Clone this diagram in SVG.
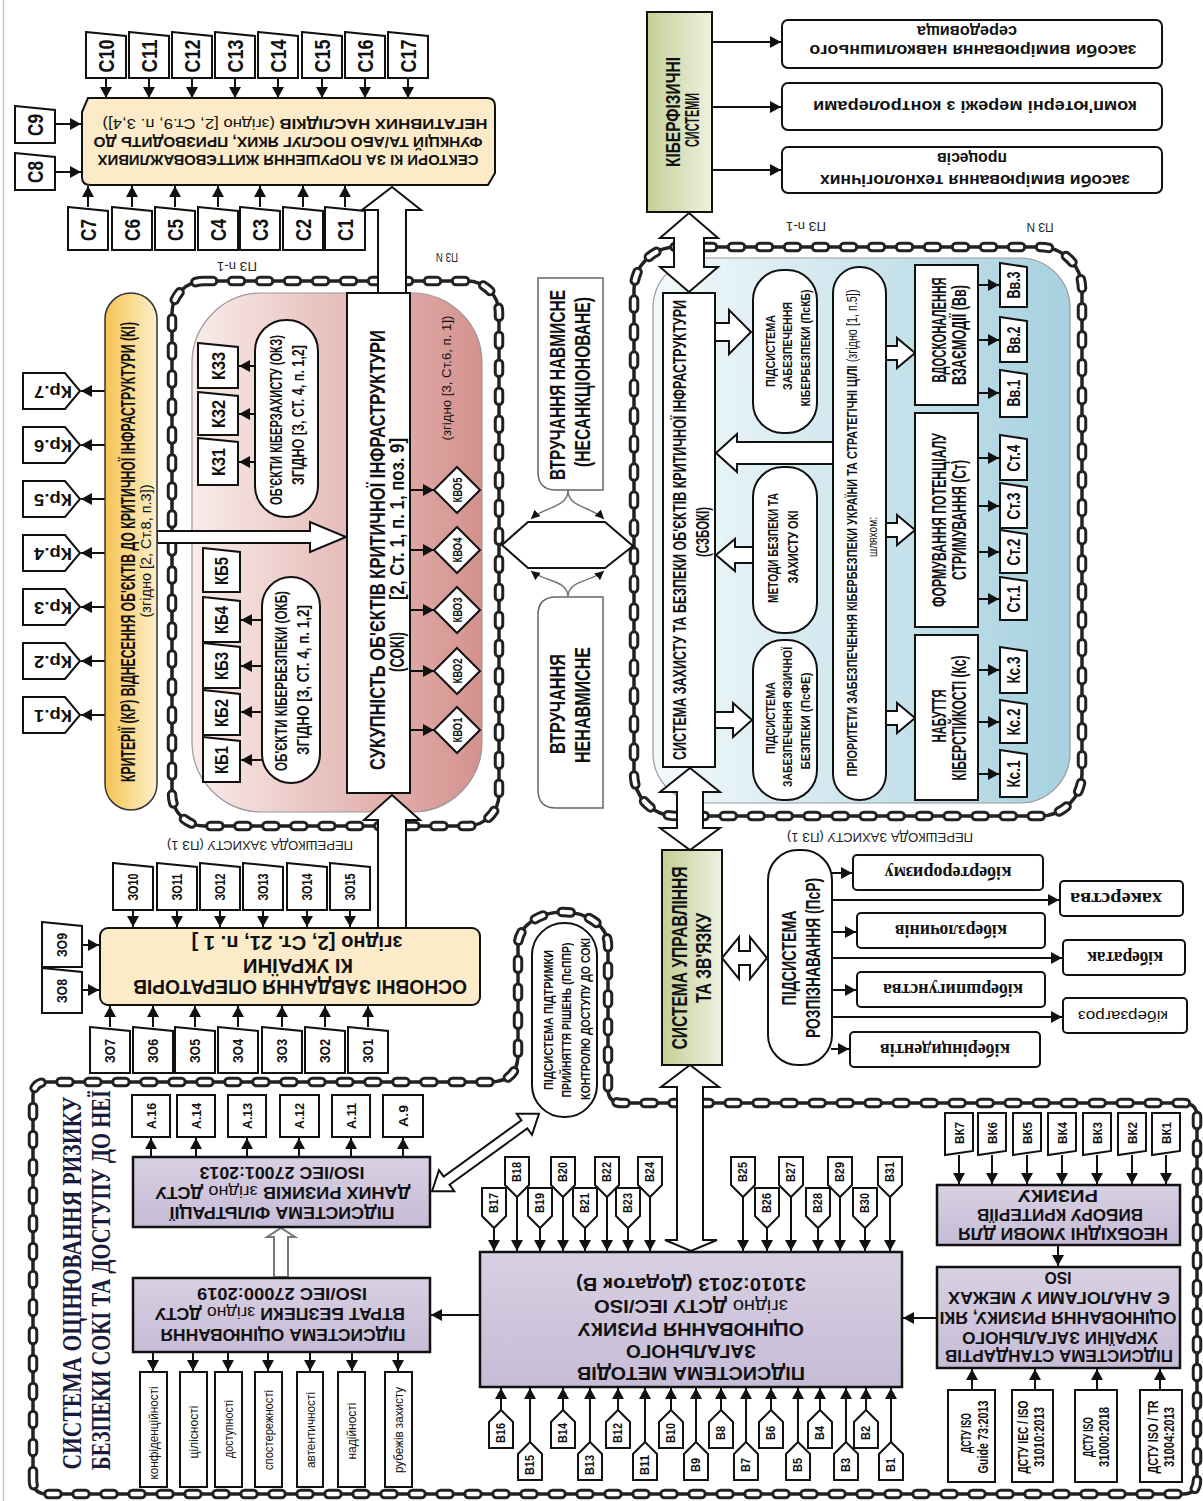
<svg xmlns="http://www.w3.org/2000/svg" width="1203" height="1501" viewBox="0 0 1203 1501">
<defs>
<style>
text{font-family:"Liberation Sans",Arial,sans-serif;font-weight:700;fill:#111;text-anchor:middle;dominant-baseline:central}
.n{font-weight:400}
.sf{font-family:"Liberation Serif","Times New Roman",serif}
.bx{fill:#fff;stroke:#111;stroke-width:2}
.cr{fill:#fcebc8;stroke:#111;stroke-width:2}
.pu{fill:url(#gp);stroke:#111;stroke-width:2.5}
.gn{fill:url(#gg);stroke:#111;stroke-width:2}
.ar{fill:none;stroke:#111;stroke-width:2;marker-end:url(#ah)}
.ha{fill:#fff;stroke:#111;stroke-width:2}
.hg{fill:#fff;stroke:#777;stroke-width:2}
.br{fill:none;stroke:#777;stroke-width:1.5;marker-end:url(#ah2)}
.c1{fill:none;stroke:#222;stroke-width:3.5}
.c2{fill:none;stroke:#222;stroke-width:10.5;stroke-dasharray:9 19;stroke-linecap:round}
.c3{fill:none;stroke:#fff;stroke-width:4.5;stroke-dasharray:9 19;stroke-linecap:round}
.pz{font-weight:400;fill:#222}
.tt{fill:#1a1a3a}
</style>
<marker id="ah" viewBox="0 0 11 12" refX="11" refY="6" markerWidth="11" markerHeight="12" markerUnits="userSpaceOnUse" orient="auto"><path d="M0,0L11,6L0,12Z" fill="#111"/></marker>
<marker id="ah2" viewBox="0 0 9 9" refX="9" refY="4.5" markerWidth="9" markerHeight="9" markerUnits="userSpaceOnUse" orient="auto"><path d="M0,0L9,4.5L0,9Z" fill="#111"/></marker>
<linearGradient id="gp" x1="0" y1="0" x2="0" y2="1"><stop offset="0" stop-color="#d8d0e3"/><stop offset="1" stop-color="#c6bcd6"/></linearGradient>
<linearGradient id="gg" x1="0" y1="0" x2="1" y2="0"><stop offset="0" stop-color="#c3cf95"/><stop offset="1" stop-color="#eef1e0"/></linearGradient>
<linearGradient id="gy" x1="0" y1="0" x2="1" y2="0"><stop offset="0" stop-color="#f5c452"/><stop offset="1" stop-color="#fdefcc"/></linearGradient>
<linearGradient id="gr" x1="0" y1="0" x2="1" y2="0"><stop offset="0" stop-color="#f9ecea"/><stop offset="1" stop-color="#d4918d"/></linearGradient>
<linearGradient id="gb" x1="0" y1="0" x2="1" y2="0"><stop offset="0" stop-color="#f3f9fb"/><stop offset="1" stop-color="#a6d1df"/></linearGradient>
<path id="chS" d="M204,281H467A32,32 0 0 1 499,313V794A32,32 0 0 1 467,826H204A32,32 0 0 1 172,794V313A32,32 0 0 1 204,281Z"/>
<path id="chB" d="M676,247H1040A42,42 0 0 1 1082,289V774A42,42 0 0 1 1040,816H676A42,42 0 0 1 634,774V289A42,42 0 0 1 676,247Z"/>
<path id="chR" d="M33,1480V1096Q33,1082 47,1082H490Q518,1082 518,1054V945A45,33 0 0 1 608,945V1089Q608,1103 622,1103H1183Q1197,1103 1197,1117V1480Q1197,1494 1183,1494H47Q33,1494 33,1480Z"/>
</defs>
<rect width="1203" height="1501" fill="#fff"/>
<line x1="3.5" y1="0" x2="3.5" y2="1501" stroke="#c8c8c8" stroke-width="1.5"/>

<g id="region-soki">
<rect x="192" y="293" width="290" height="519" rx="70" fill="url(#gr)" stroke="#999" stroke-width="1.2"/>
</g>
<g id="region-szboki">
<rect x="653" y="258" width="417" height="545" rx="50" fill="url(#gb)" stroke="#999" stroke-width="1.2"/>
</g>
<g id="chains">
<use href="#chS" class="c1"/><use href="#chS" class="c2"/><use href="#chS" class="c3"/>
<use href="#chB" class="c1"/><use href="#chB" class="c2"/><use href="#chB" class="c3"/>
<use href="#chR" class="c1"/><use href="#chR" class="c2"/><use href="#chR" class="c3"/>
</g>

<g id="connectors">
<line class="ar" x1="106" y1="79" x2="106" y2="98"/><line class="ar" x1="149" y1="79" x2="149" y2="98"/><line class="ar" x1="192" y1="79" x2="192" y2="98"/><line class="ar" x1="235" y1="79" x2="235" y2="98"/><line class="ar" x1="278" y1="79" x2="278" y2="98"/><line class="ar" x1="322" y1="79" x2="322" y2="98"/><line class="ar" x1="365" y1="79" x2="365" y2="98"/><line class="ar" x1="408" y1="79" x2="408" y2="98"/>
<line class="ar" x1="88" y1="207" x2="88" y2="186"/><line class="ar" x1="132" y1="207" x2="132" y2="186"/><line class="ar" x1="175" y1="207" x2="175" y2="186"/><line class="ar" x1="218" y1="207" x2="218" y2="186"/><line class="ar" x1="260" y1="207" x2="260" y2="186"/><line class="ar" x1="303" y1="207" x2="303" y2="186"/><line class="ar" x1="345" y1="207" x2="345" y2="186"/>
<line class="ar" x1="56" y1="124" x2="81" y2="124"/><line class="ar" x1="56" y1="172" x2="81" y2="172"/>
<line class="ar" x1="105" y1="715" x2="81" y2="715"/><line class="ar" x1="105" y1="661" x2="81" y2="661"/><line class="ar" x1="105" y1="607" x2="81" y2="607"/><line class="ar" x1="105" y1="553" x2="81" y2="553"/><line class="ar" x1="105" y1="499" x2="81" y2="499"/><line class="ar" x1="105" y1="445" x2="81" y2="445"/><line class="ar" x1="105" y1="391" x2="81" y2="391"/>
<line class="ar" x1="258" y1="366" x2="239" y2="366"/><line class="ar" x1="257" y1="414" x2="239" y2="414"/><line class="ar" x1="258" y1="462" x2="239" y2="462"/>
<line class="ar" x1="263" y1="620" x2="241" y2="620"/><line class="ar" x1="262" y1="666" x2="241" y2="666"/><line class="ar" x1="262" y1="712" x2="241" y2="712"/><line class="ar" x1="264" y1="760" x2="241" y2="760"/>
<line class="ar" x1="410" y1="490" x2="434" y2="490"/><line class="ar" x1="410" y1="550" x2="434" y2="550"/><line class="ar" x1="410" y1="610" x2="434" y2="610"/><line class="ar" x1="410" y1="671" x2="434" y2="671"/><line class="ar" x1="410" y1="730" x2="434" y2="730"/>
<line class="ar" x1="712" y1="42" x2="781" y2="42"/><line class="ar" x1="712" y1="107" x2="781" y2="107"/><line class="ar" x1="712" y1="170" x2="781" y2="170"/>
<line class="ar" x1="978" y1="285" x2="999" y2="285"/><line class="ar" x1="978" y1="340" x2="999" y2="340"/><line class="ar" x1="978" y1="393" x2="999" y2="393"/><line class="ar" x1="978" y1="458" x2="999" y2="458"/><line class="ar" x1="978" y1="506" x2="999" y2="506"/><line class="ar" x1="978" y1="552" x2="999" y2="552"/><line class="ar" x1="978" y1="599" x2="999" y2="599"/><line class="ar" x1="978" y1="670" x2="999" y2="670"/><line class="ar" x1="978" y1="722" x2="999" y2="722"/><line class="ar" x1="978" y1="774" x2="999" y2="774"/>
<line class="ar" x1="831" y1="873" x2="852" y2="873"/><line class="ar" x1="832" y1="932" x2="856" y2="932"/><line class="ar" x1="832" y1="990" x2="856" y2="990"/><line class="ar" x1="831" y1="1049" x2="849" y2="1049"/>
<line class="ar" x1="832" y1="900" x2="1059" y2="900"/><line class="ar" x1="832" y1="958" x2="1062" y2="958"/><line class="ar" x1="832" y1="1017" x2="1062" y2="1017"/>
<line class="ar" x1="133" y1="911" x2="133" y2="927"/><line class="ar" x1="177" y1="911" x2="177" y2="927"/><line class="ar" x1="220" y1="911" x2="220" y2="927"/><line class="ar" x1="263" y1="911" x2="263" y2="927"/><line class="ar" x1="307" y1="911" x2="307" y2="927"/><line class="ar" x1="350" y1="911" x2="350" y2="927"/>
<line class="ar" x1="110" y1="1027" x2="110" y2="1006"/><line class="ar" x1="153" y1="1027" x2="153" y2="1006"/><line class="ar" x1="195" y1="1027" x2="195" y2="1006"/><line class="ar" x1="238" y1="1027" x2="238" y2="1006"/><line class="ar" x1="282" y1="1027" x2="282" y2="1006"/><line class="ar" x1="325" y1="1027" x2="325" y2="1006"/><line class="ar" x1="368" y1="1027" x2="368" y2="1006"/>
<line class="ar" x1="83" y1="945" x2="99" y2="945"/><line class="ar" x1="83" y1="990" x2="99" y2="990"/>
<line class="ar" x1="151" y1="1157" x2="151" y2="1138"/><line class="ar" x1="196" y1="1157" x2="196" y2="1138"/><line class="ar" x1="247" y1="1157" x2="247" y2="1138"/><line class="ar" x1="299" y1="1157" x2="299" y2="1138"/><line class="ar" x1="351" y1="1157" x2="351" y2="1138"/><line class="ar" x1="403" y1="1157" x2="403" y2="1138"/>
<line class="ar" x1="153" y1="1353" x2="153" y2="1371"/><line class="ar" x1="193" y1="1353" x2="193" y2="1371"/><line class="ar" x1="228" y1="1353" x2="228" y2="1371"/><line class="ar" x1="268" y1="1353" x2="268" y2="1371"/><line class="ar" x1="310" y1="1353" x2="310" y2="1371"/><line class="ar" x1="352" y1="1353" x2="352" y2="1371"/><line class="ar" x1="398" y1="1353" x2="398" y2="1371"/>
<line class="ar" x1="480" y1="1315" x2="431" y2="1315"/>
<line class="ar" x1="494" y1="1228" x2="494" y2="1251"/><line class="ar" x1="517" y1="1197" x2="517" y2="1251"/><line class="ar" x1="540" y1="1228" x2="540" y2="1251"/><line class="ar" x1="563" y1="1197" x2="563" y2="1251"/><line class="ar" x1="585" y1="1228" x2="585" y2="1251"/><line class="ar" x1="607" y1="1197" x2="607" y2="1251"/><line class="ar" x1="628" y1="1228" x2="628" y2="1251"/><line class="ar" x1="650" y1="1197" x2="650" y2="1251"/>
<line class="ar" x1="743" y1="1197" x2="743" y2="1251"/><line class="ar" x1="767" y1="1228" x2="767" y2="1251"/><line class="ar" x1="791" y1="1197" x2="791" y2="1251"/><line class="ar" x1="818" y1="1228" x2="818" y2="1251"/><line class="ar" x1="840" y1="1197" x2="840" y2="1251"/><line class="ar" x1="865" y1="1228" x2="865" y2="1251"/><line class="ar" x1="890" y1="1197" x2="890" y2="1251"/>
<line class="ar" x1="501" y1="1410" x2="501" y2="1388"/><line class="ar" x1="530" y1="1442" x2="530" y2="1388"/><line class="ar" x1="563" y1="1410" x2="563" y2="1388"/><line class="ar" x1="590" y1="1442" x2="590" y2="1388"/><line class="ar" x1="618" y1="1410" x2="618" y2="1388"/><line class="ar" x1="645" y1="1442" x2="645" y2="1388"/><line class="ar" x1="671" y1="1410" x2="671" y2="1388"/><line class="ar" x1="696" y1="1442" x2="696" y2="1388"/>
<line class="ar" x1="721" y1="1410" x2="721" y2="1388"/><line class="ar" x1="746" y1="1442" x2="746" y2="1388"/><line class="ar" x1="771" y1="1410" x2="771" y2="1388"/><line class="ar" x1="798" y1="1442" x2="798" y2="1388"/><line class="ar" x1="820" y1="1410" x2="820" y2="1388"/><line class="ar" x1="846" y1="1442" x2="846" y2="1388"/><line class="ar" x1="866" y1="1410" x2="866" y2="1388"/><line class="ar" x1="891" y1="1442" x2="891" y2="1388"/>
<line class="ar" x1="937" y1="1318" x2="903" y2="1318"/>
<line class="ar" x1="1058" y1="1245" x2="1058" y2="1266"/>
<line class="ar" x1="959" y1="1155" x2="959" y2="1184"/><line class="ar" x1="992" y1="1155" x2="992" y2="1184"/><line class="ar" x1="1027" y1="1155" x2="1027" y2="1184"/><line class="ar" x1="1062" y1="1155" x2="1062" y2="1184"/><line class="ar" x1="1097" y1="1155" x2="1097" y2="1184"/><line class="ar" x1="1132" y1="1155" x2="1132" y2="1184"/><line class="ar" x1="1166" y1="1155" x2="1166" y2="1184"/>
<line class="ar" x1="972" y1="1390" x2="972" y2="1369"/><line class="ar" x1="1035" y1="1390" x2="1035" y2="1369"/><line class="ar" x1="1097" y1="1390" x2="1097" y2="1369"/><line class="ar" x1="1160" y1="1390" x2="1160" y2="1369"/>
<polygon class="ha" points="378,293 378,210 362,210 392,187 421,210 406,210 406,293"/>
<polygon class="ha" points="378,928 378,820 364,820 392,795 420,820 406,820 406,928"/>
<polygon class="ha" points="157,531 310,531 310,522 346,537 310,552 310,543 157,543"/>
<polygon class="ha" points="689,213 718,238 704,238 704,267 718,267 689,292 660,267 674,267 674,238 660,238"/>
<polygon class="ha" points="690,768 720,792 703,792 703,828 720,828 690,850 660,828 677,828 677,792 660,792"/>
<polygon class="ha" points="690,1065 719,1087 703,1087 703,1240 717,1240 691,1251 665,1240 677,1240 677,1087 661,1087"/>
<polygon class="ha" points="722,958 739,937 739,951 750,951 750,937 767,958 750,979 750,965 739,965 739,979"/>
<polygon class="ha" points="715,323 729,323 729,310 751,332 729,354 729,341 715,341"/>
<polygon class="ha" points="833,442 737,442 737,434 716,453 737,472 737,464 833,464"/>
<polygon class="ha" points="753,547 735,547 735,539 716,555 735,571 735,563 753,563"/>
<polygon class="ha" points="715,712 733,712 733,703 752,720 733,737 733,728 715,728"/>
<polygon class="ha" points="886,346 897,346 897,338 915,353 897,368 897,360 886,360"/>
<polygon class="ha" points="886,523 897,523 897,515 915,530 897,545 897,537 886,537"/>
<polygon class="ha" points="886,711 897,711 897,703 915,718 897,733 897,725 886,725"/>
<polygon class="hg" points="274,1277 274,1237 267,1237 281,1228 295,1237 288,1237 288,1277"/>
<polygon class="ha" transform="translate(485.5,1152.5) rotate(-35.9)" points="-66,0 -48,-13 -48,-5 48,-5 48,-13 66,0 48,13 48,5 -48,5 -48,13"/>
<polygon points="502,545 528,522 605,522 633,546 605,568 528,568" fill="#fff" stroke="#111" stroke-width="2"/>
<path class="br" d="M568,490C568,508 545,506 531,519"/>
<path class="br" d="M568,490C568,508 591,506 604,519"/>
<path class="br" d="M568,597C568,580 545,582 531,571"/>
<path class="br" d="M568,597C568,580 591,582 604,571"/>
</g>

<g id="labels-pz" font-size="12">
<text class="pz" transform="translate(237,266) rotate(180)" textLength="40" lengthAdjust="spacingAndGlyphs">ПЗ n-1</text>
<text class="pz" transform="translate(447,257) rotate(180)" textLength="22" lengthAdjust="spacingAndGlyphs">ПЗ N</text>
<text class="pz" transform="translate(806,226) rotate(180)" textLength="40" lengthAdjust="spacingAndGlyphs">ПЗ n-1</text>
<text class="pz" transform="translate(1040,227) rotate(180)" textLength="27" lengthAdjust="spacingAndGlyphs">ПЗ N</text>
<text class="pz" transform="translate(260,845) rotate(180)" textLength="186" lengthAdjust="spacingAndGlyphs">ПЕРЕШКОДА ЗАХИСТУ (ПЗ 1)</text>
<text class="pz" transform="translate(880,837) rotate(180)" textLength="186" lengthAdjust="spacingAndGlyphs">ПЕРЕШКОДА ЗАХИСТУ (ПЗ 1)</text>
<text class="n" transform="translate(446,378) rotate(-90)" font-size="13" textLength="125" lengthAdjust="spacingAndGlyphs">(згідно [3, Ст.6, п. 1])</text>
</g>

<g id="n-sectors">
<path class="cr" d="M88,98H487Q495,98 495,106V173L488,185H90Q82,185 82,177V112Z"/>
<text transform="translate(288,160) rotate(180)" font-size="14" textLength="381" lengthAdjust="spacingAndGlyphs">СЕКТОРИ КІ ЗА ПОРУШЕННЯ ЖИТТЄВОВАЖЛИВИХ</text>
<text transform="translate(288,142) rotate(180)" font-size="14" textLength="389" lengthAdjust="spacingAndGlyphs">ФУНКЦІЙ ТА/АБО ПОСЛУГ ЯКИХ, ПРИЗВОДИТЬ ДО</text>
<text transform="translate(295,124) rotate(180)" font-size="14" textLength="385" lengthAdjust="spacingAndGlyphs">НЕГАТИВНИХ НАСЛІДКІВ <tspan class="n">(згідно [2, Ст.9, п. 3,4])</tspan></text>
</g>
<g id="n-c" font-size="22">
<polygon class="bx" points="86,32 126,36 126,78 86,78"/><text transform="translate(106,56) rotate(-90)" textLength="33" lengthAdjust="spacingAndGlyphs">С10</text>
<polygon class="bx" points="129,32 169,36 169,78 129,78"/><text transform="translate(149,56) rotate(-90)" textLength="33" lengthAdjust="spacingAndGlyphs">С11</text>
<polygon class="bx" points="172,32 212,36 212,78 172,78"/><text transform="translate(192,56) rotate(-90)" textLength="33" lengthAdjust="spacingAndGlyphs">С12</text>
<polygon class="bx" points="215,32 255,36 255,78 215,78"/><text transform="translate(235,56) rotate(-90)" textLength="33" lengthAdjust="spacingAndGlyphs">С13</text>
<polygon class="bx" points="258,32 298,36 298,78 258,78"/><text transform="translate(278,56) rotate(-90)" textLength="33" lengthAdjust="spacingAndGlyphs">С14</text>
<polygon class="bx" points="302,32 342,36 342,78 302,78"/><text transform="translate(322,56) rotate(-90)" textLength="33" lengthAdjust="spacingAndGlyphs">С15</text>
<polygon class="bx" points="345,32 385,36 385,78 345,78"/><text transform="translate(365,56) rotate(-90)" textLength="33" lengthAdjust="spacingAndGlyphs">С16</text>
<polygon class="bx" points="388,32 428,36 428,78 388,78"/><text transform="translate(408,56) rotate(-90)" textLength="33" lengthAdjust="spacingAndGlyphs">С17</text>
<polygon class="bx" points="68,207 108,211 108,250 68,250"/><text transform="translate(88,230) rotate(-90)" textLength="22" lengthAdjust="spacingAndGlyphs">С7</text>
<polygon class="bx" points="112,207 152,211 152,250 112,250"/><text transform="translate(132,230) rotate(-90)" textLength="22" lengthAdjust="spacingAndGlyphs">С6</text>
<polygon class="bx" points="155,207 195,211 195,250 155,250"/><text transform="translate(175,230) rotate(-90)" textLength="22" lengthAdjust="spacingAndGlyphs">С5</text>
<polygon class="bx" points="198,207 238,211 238,250 198,250"/><text transform="translate(218,230) rotate(-90)" textLength="22" lengthAdjust="spacingAndGlyphs">С4</text>
<polygon class="bx" points="240,207 280,211 280,250 240,250"/><text transform="translate(260,230) rotate(-90)" textLength="22" lengthAdjust="spacingAndGlyphs">С3</text>
<polygon class="bx" points="283,207 323,211 323,250 283,250"/><text transform="translate(303,230) rotate(-90)" textLength="22" lengthAdjust="spacingAndGlyphs">С2</text>
<polygon class="bx" points="325,207 365,211 365,250 325,250"/><text transform="translate(345,230) rotate(-90)" textLength="22" lengthAdjust="spacingAndGlyphs">С1</text>
<polygon class="bx" points="15,106 55,110 55,143 15,143"/><text transform="translate(35,125) rotate(-90)" textLength="22" lengthAdjust="spacingAndGlyphs">С9</text>
<polygon class="bx" points="15,153 55,157 55,190 15,190"/><text transform="translate(35,172) rotate(-90)" textLength="22" lengthAdjust="spacingAndGlyphs">С8</text>
</g>

<g id="n-criteria">
<rect x="105" y="293" width="52" height="517" rx="26" fill="url(#gy)" stroke="#333" stroke-width="1.5"/>
<text transform="translate(128,552) rotate(-90)" font-size="20" textLength="460" lengthAdjust="spacingAndGlyphs">КРИТЕРІЇ (КР) ВІДНЕСЕННЯ ОБ'ЄКТІВ ДО КРИТИЧНОЇ ІНФРАСТРУКТУРИ (КІ)</text>
<text class="n" transform="translate(146,551) rotate(-90)" font-size="14" textLength="133" lengthAdjust="spacingAndGlyphs">(згідно [2, Ст.8, п.3])</text>
</g>
<g id="n-kr" font-size="17">
<polygon class="bx" points="23,697 65,697 80,715 65,733 23,733"/><text transform="translate(53,715) rotate(180)" textLength="38" lengthAdjust="spacingAndGlyphs">Кр.1</text>
<polygon class="bx" points="23,643 65,643 80,661 65,679 23,679"/><text transform="translate(53,661) rotate(180)" textLength="38" lengthAdjust="spacingAndGlyphs">Кр.2</text>
<polygon class="bx" points="23,589 65,589 80,607 65,625 23,625"/><text transform="translate(53,607) rotate(180)" textLength="38" lengthAdjust="spacingAndGlyphs">Кр.3</text>
<polygon class="bx" points="23,535 65,535 80,553 65,571 23,571"/><text transform="translate(53,553) rotate(180)" textLength="38" lengthAdjust="spacingAndGlyphs">Кр.4</text>
<polygon class="bx" points="23,481 65,481 80,499 65,517 23,517"/><text transform="translate(53,499) rotate(180)" textLength="38" lengthAdjust="spacingAndGlyphs">Кр.5</text>
<polygon class="bx" points="23,427 65,427 80,445 65,463 23,463"/><text transform="translate(53,445) rotate(180)" textLength="38" lengthAdjust="spacingAndGlyphs">Кр.6</text>
<polygon class="bx" points="23,373 65,373 80,391 65,409 23,409"/><text transform="translate(53,391) rotate(180)" textLength="38" lengthAdjust="spacingAndGlyphs">Кр.7</text>
</g>

<g id="n-soki">
<rect class="bx" x="347" y="293" width="63" height="500"/>
<text transform="translate(377,550) rotate(-90)" font-size="22" textLength="440" lengthAdjust="spacingAndGlyphs">СУКУПНІСТЬ ОБ'ЄКТІВ КРИТИЧНОЇ ІНФРАСТРУКТУРИ</text>
<text transform="translate(397,652) rotate(-90)" font-size="20" textLength="40" lengthAdjust="spacingAndGlyphs">(СОКІ)</text>
<text transform="translate(397,519) rotate(-90)" font-size="20" textLength="162" lengthAdjust="spacingAndGlyphs">[2, Ст. 1, п. 1, поз. 9]</text>
</g>
<g id="n-okz">
<rect class="bx" x="255" y="320" width="63" height="197" rx="31"/>
<text transform="translate(276,420) rotate(-90)" font-size="17" textLength="170" lengthAdjust="spacingAndGlyphs">ОБ'ЄКТИ КІБЕРЗАХИСТУ (ОКЗ)</text>
<text transform="translate(298,415) rotate(-90)" font-size="17" textLength="140" lengthAdjust="spacingAndGlyphs">ЗГІДНО [3, СТ. 4, п. 1,2]</text>
</g>
<g id="n-okb">
<rect class="bx" x="262" y="577" width="58" height="206" rx="29"/>
<text transform="translate(281,681) rotate(-90)" font-size="17" textLength="180" lengthAdjust="spacingAndGlyphs">ОБ'ЄКТИ КІБЕРБЕЗПЕКИ (ОКБ)</text>
<text transform="translate(303,680) rotate(-90)" font-size="17" textLength="150" lengthAdjust="spacingAndGlyphs">ЗГІДНО [3, СТ. 4, п. 1,2]</text>
</g>
<g id="n-k" font-size="19">
<polygon class="bx" points="198,343 238,347 238,388 198,388"/><text transform="translate(218,366) rotate(-90)" textLength="28" lengthAdjust="spacingAndGlyphs">К33</text>
<polygon class="bx" points="198,392 238,396 238,435 198,435"/><text transform="translate(218,414) rotate(-90)" textLength="28" lengthAdjust="spacingAndGlyphs">К32</text>
<polygon class="bx" points="198,438 238,442 238,485 198,485"/><text transform="translate(218,462) rotate(-90)" textLength="28" lengthAdjust="spacingAndGlyphs">К31</text>
<polygon class="bx" points="203,548 240,552 240,592 203,592"/><text transform="translate(221,571) rotate(-90)" textLength="28" lengthAdjust="spacingAndGlyphs">КБ5</text>
<polygon class="bx" points="203,597 240,601 240,642 203,642"/><text transform="translate(221,620) rotate(-90)" textLength="28" lengthAdjust="spacingAndGlyphs">КБ4</text>
<polygon class="bx" points="203,643 240,647 240,688 203,688"/><text transform="translate(221,666) rotate(-90)" textLength="28" lengthAdjust="spacingAndGlyphs">КБ3</text>
<polygon class="bx" points="203,690 240,694 240,735 203,735"/><text transform="translate(221,713) rotate(-90)" textLength="28" lengthAdjust="spacingAndGlyphs">КБ2</text>
<polygon class="bx" points="203,737 240,741 240,782 203,782"/><text transform="translate(221,760) rotate(-90)" textLength="28" lengthAdjust="spacingAndGlyphs">КБ1</text>
</g>
<g id="n-kvo" font-size="13">
<polygon class="bx" points="457,467 480,490 457,513 434,490"/><text transform="translate(457,490) rotate(-90)" textLength="25" lengthAdjust="spacingAndGlyphs">КВО5</text>
<polygon class="bx" points="457,527 480,550 457,573 434,550"/><text transform="translate(457,550) rotate(-90)" textLength="25" lengthAdjust="spacingAndGlyphs">КВО4</text>
<polygon class="bx" points="457,587 480,610 457,633 434,610"/><text transform="translate(457,610) rotate(-90)" textLength="25" lengthAdjust="spacingAndGlyphs">КВО3</text>
<polygon class="bx" points="457,648 480,671 457,694 434,671"/><text transform="translate(457,671) rotate(-90)" textLength="25" lengthAdjust="spacingAndGlyphs">КВО2</text>
<polygon class="bx" points="457,707 480,730 457,753 434,730"/><text transform="translate(457,730) rotate(-90)" textLength="25" lengthAdjust="spacingAndGlyphs">КВО1</text>
</g>

<g id="n-intentional">
<path d="M538,278H603V490H556Q538,490 538,472Z" fill="#fff" stroke="#666" stroke-width="1.5"/>
<text transform="translate(557,385) rotate(-90)" font-size="22" textLength="190" lengthAdjust="spacingAndGlyphs">ВТРУЧАННЯ НАВМИСНЕ</text>
<text transform="translate(582,382) rotate(-90)" font-size="22" textLength="170" lengthAdjust="spacingAndGlyphs">(НЕСАНКЦІОНОВАНЕ)</text>
</g>
<g id="n-unintentional">
<path d="M556,597H603V808H556Q538,808 538,790V615Q538,597 556,597Z" fill="#fff" stroke="#666" stroke-width="1.5"/>
<text transform="translate(557,704) rotate(-90)" font-size="22" textLength="100" lengthAdjust="spacingAndGlyphs">ВТРУЧАННЯ</text>
<text transform="translate(582,705) rotate(-90)" font-size="22" textLength="116" lengthAdjust="spacingAndGlyphs">НЕНАВМИСНЕ</text>
</g>

<g id="n-cps">
<rect class="gn" x="647" y="12" width="65" height="200"/>
<text transform="translate(672,112) rotate(-90)" font-size="21" textLength="110" lengthAdjust="spacingAndGlyphs">КІБЕРФІЗИЧНІ</text>
<text transform="translate(691,120) rotate(-90)" font-size="21" textLength="54" lengthAdjust="spacingAndGlyphs">СИСТЕМИ</text>
</g>
<g id="n-cps-boxes" font-size="16">
<rect class="bx" x="782" y="20" width="380" height="48" rx="6"/>
<text transform="translate(973,50) rotate(180)" textLength="327" lengthAdjust="spacingAndGlyphs">засоби вимірювання навколишнього</text>
<text transform="translate(967,31) rotate(180)" textLength="100" lengthAdjust="spacingAndGlyphs">середовища</text>
<rect class="bx" x="782" y="83" width="380" height="47" rx="6"/>
<text transform="translate(975,106) rotate(180)" textLength="324" lengthAdjust="spacingAndGlyphs">комп'ютерні мережі з контролерами</text>
<rect class="bx" x="782" y="147" width="380" height="46" rx="6"/>
<text transform="translate(975,180) rotate(180)" textLength="310" lengthAdjust="spacingAndGlyphs">засоби вимірювання технологічних</text>
<text transform="translate(972,158) rotate(180)" textLength="70" lengthAdjust="spacingAndGlyphs">процесів</text>
</g>

<g id="n-szboki">
<rect class="bx" x="663" y="293" width="52" height="474"/>
<text transform="translate(679,530) rotate(-90)" font-size="19" textLength="460" lengthAdjust="spacingAndGlyphs">СИСТЕМА ЗАХИСТУ ТА БЕЗПЕКИ ОБ'ЄКТІВ КРИТИЧНОЇ ІНФРАСТРУКТУРИ</text>
<text transform="translate(702,532) rotate(-90)" font-size="19" textLength="50" lengthAdjust="spacingAndGlyphs">(СЗБОКІ)</text>
</g>
<g id="n-pskb" font-size="13">
<rect class="bx" x="753" y="270" width="64" height="163" rx="30"/>
<text transform="translate(770,351) rotate(-90)" textLength="72" lengthAdjust="spacingAndGlyphs">ПІДСИСТЕМА</text>
<text transform="translate(787,346) rotate(-90)" textLength="88" lengthAdjust="spacingAndGlyphs">ЗАБЕЗПЕЧЕННЯ</text>
<text transform="translate(805,348) rotate(-90)" textLength="117" lengthAdjust="spacingAndGlyphs">КІБЕРБЕЗПЕКИ (ПсКБ)</text>
</g>
<g id="n-methods" font-size="14">
<rect class="bx" x="753" y="467" width="64" height="166" rx="30"/>
<text transform="translate(773,548) rotate(-90)" textLength="110" lengthAdjust="spacingAndGlyphs">МЕТОДИ БЕЗПЕКИ ТА</text>
<text transform="translate(793,547) rotate(-90)" textLength="73" lengthAdjust="spacingAndGlyphs">ЗАХИСТУ ОКІ</text>
</g>
<g id="n-psfe" font-size="13">
<rect class="bx" x="753" y="640" width="64" height="160" rx="30"/>
<text transform="translate(770,718) rotate(-90)" textLength="72" lengthAdjust="spacingAndGlyphs">ПІДСИСТЕМА</text>
<text transform="translate(787,717) rotate(-90)" textLength="140" lengthAdjust="spacingAndGlyphs">ЗАБЕЗПЕЧЕННЯ ФІЗИЧНОЇ</text>
<text transform="translate(805,721) rotate(-90)" textLength="97" lengthAdjust="spacingAndGlyphs">БЕЗПЕКИ (ПсФЕ)</text>
</g>
<g id="n-priorities">
<rect class="bx" x="833" y="267" width="53" height="533" rx="26"/>
<text transform="translate(851,533) rotate(-90)" font-size="15" textLength="487" lengthAdjust="spacingAndGlyphs">ПРІОРИТЕТИ ЗАБЕЗПЕЧЕННЯ КІБЕРБЕЗПЕКИ УКРАЇНИ ТА СТРАТЕГІЧНІ ЦІЛІ <tspan class="n">(згідно [1, п.5])</tspan></text>
<text class="n" transform="translate(872,537) rotate(-90)" font-size="13" textLength="40" lengthAdjust="spacingAndGlyphs">шляхом:</text>
</g>
<g id="n-vv" font-size="20">
<rect class="bx" x="915" y="265" width="63" height="140"/>
<text transform="translate(939,330) rotate(-90)" textLength="105" lengthAdjust="spacingAndGlyphs">ВДОСКОНАЛЕННЯ</text>
<text transform="translate(959,335) rotate(-90)" textLength="100" lengthAdjust="spacingAndGlyphs">ВЗАЄМОДІЇ (Вв)</text>
</g>
<g id="n-st" font-size="20">
<rect class="bx" x="915" y="413" width="63" height="214"/>
<text transform="translate(939,520) rotate(-90)" textLength="174" lengthAdjust="spacingAndGlyphs">ФОРМУВАННЯ ПОТЕНЦІАЛУ</text>
<text transform="translate(959,520) rotate(-90)" textLength="120" lengthAdjust="spacingAndGlyphs">СТРИМУВАННЯ (Ст)</text>
</g>
<g id="n-ks" font-size="20">
<rect class="bx" x="915" y="635" width="63" height="165"/>
<text transform="translate(939,716) rotate(-90)" textLength="53" lengthAdjust="spacingAndGlyphs">НАБУТТЯ</text>
<text transform="translate(959,718) rotate(-90)" textLength="125" lengthAdjust="spacingAndGlyphs">КІБЕРСТІЙКОСТІ (Кс)</text>
</g>
<g id="n-small" font-size="18">
<polygon class="bx" points="1000,263 1027,267 1027,307 1000,307"/><text transform="translate(1014,285) rotate(-90)" textLength="27" lengthAdjust="spacingAndGlyphs">Вв.3</text>
<polygon class="bx" points="1000,317 1027,321 1027,362 1000,362"/><text transform="translate(1014,340) rotate(-90)" textLength="27" lengthAdjust="spacingAndGlyphs">Вв.2</text>
<polygon class="bx" points="1000,370 1027,374 1027,417 1000,417"/><text transform="translate(1014,393) rotate(-90)" textLength="27" lengthAdjust="spacingAndGlyphs">Вв.1</text>
<polygon class="bx" points="1000,435 1027,439 1027,480 1000,480"/><text transform="translate(1014,458) rotate(-90)" textLength="27" lengthAdjust="spacingAndGlyphs">Ст.4</text>
<polygon class="bx" points="1000,483 1027,487 1027,528 1000,528"/><text transform="translate(1014,506) rotate(-90)" textLength="27" lengthAdjust="spacingAndGlyphs">Ст.3</text>
<polygon class="bx" points="1000,530 1027,534 1027,573 1000,573"/><text transform="translate(1014,552) rotate(-90)" textLength="27" lengthAdjust="spacingAndGlyphs">Ст.2</text>
<polygon class="bx" points="1000,577 1027,581 1027,620 1000,620"/><text transform="translate(1014,599) rotate(-90)" textLength="27" lengthAdjust="spacingAndGlyphs">Ст.1</text>
<polygon class="bx" points="1000,647 1027,651 1027,693 1000,693"/><text transform="translate(1014,670) rotate(-90)" textLength="27" lengthAdjust="spacingAndGlyphs">Кс.3</text>
<polygon class="bx" points="1000,700 1027,704 1027,743 1000,743"/><text transform="translate(1014,722) rotate(-90)" textLength="27" lengthAdjust="spacingAndGlyphs">Кс.2</text>
<polygon class="bx" points="1000,750 1027,754 1027,797 1000,797"/><text transform="translate(1014,774) rotate(-90)" textLength="27" lengthAdjust="spacingAndGlyphs">Кс.1</text>
</g>

<g id="n-control">
<rect class="gn" x="662" y="850" width="60" height="215"/>
<text transform="translate(679,958) rotate(-90)" font-size="22" textLength="183" lengthAdjust="spacingAndGlyphs">СИСТЕМА УПРАВЛІННЯ</text>
<text transform="translate(703,958) rotate(-90)" font-size="22" textLength="90" lengthAdjust="spacingAndGlyphs">ТА ЗВ'ЯЗКУ</text>
</g>
<g id="n-psr">
<rect class="bx" x="768" y="850" width="64" height="215" rx="30"/>
<text transform="translate(789,958) rotate(-90)" font-size="20" textLength="95" lengthAdjust="spacingAndGlyphs">ПІДСИСТЕМА</text>
<text transform="translate(813,958) rotate(-90)" font-size="20" textLength="160" lengthAdjust="spacingAndGlyphs">РОЗПІЗНАВАННЯ (ПсР)</text>
</g>
<g id="n-threats" font-size="18">
<rect class="bx" x="853" y="855" width="190" height="35" rx="4"/><text class="sf" transform="translate(948,873) rotate(180)" textLength="127" lengthAdjust="spacingAndGlyphs">кібертероризму</text>
<rect class="bx" x="857" y="913" width="188" height="35" rx="4"/><text class="sf" transform="translate(951,931) rotate(180)" textLength="112" lengthAdjust="spacingAndGlyphs">кіберзлочинів</text>
<rect class="bx" x="857" y="972" width="188" height="35" rx="4"/><text class="sf" transform="translate(953,990) rotate(180)" textLength="140" lengthAdjust="spacingAndGlyphs">кібершпигунства</text>
<rect class="bx" x="850" y="1032" width="190" height="35" rx="4"/><text class="sf" transform="translate(945,1050) rotate(180)" textLength="130" lengthAdjust="spacingAndGlyphs">кіберінцидентів</text>
<rect class="bx" x="1060" y="881" width="123" height="35" rx="4"/><text class="sf" transform="translate(1116,899) rotate(180)" textLength="92" lengthAdjust="spacingAndGlyphs">хакерства</text>
<rect class="bx" x="1063" y="940" width="122" height="35" rx="4"/><text class="sf" transform="translate(1125,958) rotate(180)" textLength="76" lengthAdjust="spacingAndGlyphs">кібератак</text>
<rect class="bx" x="1063" y="998" width="124" height="35" rx="4"/><text class="n" transform="translate(1123,1016) rotate(180)" font-size="15" textLength="90" lengthAdjust="spacingAndGlyphs">кіберзагроз</text>
</g>

<g id="n-operators">
<rect class="cr" x="100" y="928" width="380" height="77" rx="8"/>
<text transform="translate(300,987) rotate(180)" font-size="20" textLength="334" lengthAdjust="spacingAndGlyphs">ОСНОВНІ ЗАВДАННЯ ОПЕРАТОРІВ</text>
<text transform="translate(298,966) rotate(180)" font-size="20" textLength="110" lengthAdjust="spacingAndGlyphs">КІ УКРАЇНИ</text>
<text transform="translate(297,943) rotate(180)" font-size="20" textLength="211" lengthAdjust="spacingAndGlyphs">згідно [2, Ст. 21, п. 1 ]</text>
</g>
<g id="n-zo" font-size="14">
<polygon class="bx" points="113,863 153,867 153,910 113,910"/><text transform="translate(133,887) rotate(-90)" textLength="27" lengthAdjust="spacingAndGlyphs">ЗО10</text>
<polygon class="bx" points="157,863 197,867 197,910 157,910"/><text transform="translate(177,887) rotate(-90)" textLength="27" lengthAdjust="spacingAndGlyphs">ЗО11</text>
<polygon class="bx" points="200,863 240,867 240,910 200,910"/><text transform="translate(220,887) rotate(-90)" textLength="27" lengthAdjust="spacingAndGlyphs">ЗО12</text>
<polygon class="bx" points="243,863 283,867 283,910 243,910"/><text transform="translate(263,887) rotate(-90)" textLength="27" lengthAdjust="spacingAndGlyphs">ЗО13</text>
<polygon class="bx" points="287,863 327,867 327,910 287,910"/><text transform="translate(307,887) rotate(-90)" textLength="27" lengthAdjust="spacingAndGlyphs">ЗО14</text>
<polygon class="bx" points="330,863 370,867 370,910 330,910"/><text transform="translate(350,887) rotate(-90)" textLength="27" lengthAdjust="spacingAndGlyphs">ЗО15</text>
<polygon class="bx" points="90,1027 130,1031 130,1073 90,1073"/><text transform="translate(110,1051) rotate(-90)" textLength="24" lengthAdjust="spacingAndGlyphs">ЗО7</text>
<polygon class="bx" points="133,1027 173,1031 173,1073 133,1073"/><text transform="translate(153,1051) rotate(-90)" textLength="24" lengthAdjust="spacingAndGlyphs">ЗО6</text>
<polygon class="bx" points="175,1027 215,1031 215,1073 175,1073"/><text transform="translate(195,1051) rotate(-90)" textLength="24" lengthAdjust="spacingAndGlyphs">ЗО5</text>
<polygon class="bx" points="218,1027 258,1031 258,1073 218,1073"/><text transform="translate(238,1051) rotate(-90)" textLength="24" lengthAdjust="spacingAndGlyphs">ЗО4</text>
<polygon class="bx" points="262,1027 302,1031 302,1073 262,1073"/><text transform="translate(282,1051) rotate(-90)" textLength="24" lengthAdjust="spacingAndGlyphs">ЗО3</text>
<polygon class="bx" points="305,1027 345,1031 345,1073 305,1073"/><text transform="translate(325,1051) rotate(-90)" textLength="24" lengthAdjust="spacingAndGlyphs">ЗО2</text>
<polygon class="bx" points="348,1027 388,1031 388,1073 348,1073"/><text transform="translate(368,1051) rotate(-90)" textLength="24" lengthAdjust="spacingAndGlyphs">ЗО1</text>
<polygon class="bx" points="42,922 82,926 82,967 42,967"/><text transform="translate(62,945) rotate(-90)" textLength="24" lengthAdjust="spacingAndGlyphs">ЗО9</text>
<polygon class="bx" points="42,968 82,972 82,1013 42,1013"/><text transform="translate(62,991) rotate(-90)" textLength="24" lengthAdjust="spacingAndGlyphs">ЗО8</text>
</g>

<g id="n-title">
<text class="sf tt" transform="translate(71,1283) rotate(-90)" font-size="28" textLength="373" lengthAdjust="spacingAndGlyphs">СИСТЕМА ОЦІНЮВАННЯ РИЗИКУ</text>
<text class="sf tt" transform="translate(100,1280) rotate(-90)" font-size="28" textLength="380" lengthAdjust="spacingAndGlyphs">БЕЗПЕКИ СОКІ ТА ДОСТУПУ ДО НЕЇ</text>
</g>
<g id="n-pspppr">
<rect class="bx" x="532" y="923" width="65" height="194" rx="32"/>
<text transform="translate(548,1020) rotate(-90)" font-size="13" textLength="140" lengthAdjust="spacingAndGlyphs">ПІДСИСТЕМА ПІДТРИМКИ</text>
<text transform="translate(566,1020) rotate(-90)" font-size="13" textLength="155" lengthAdjust="spacingAndGlyphs">ПРИЙНЯТТЯ РІШЕНЬ (ПсППР)</text>
<text transform="translate(585,1019) rotate(-90)" font-size="13" textLength="162" lengthAdjust="spacingAndGlyphs">КОНТРОЛЮ ДОСТУПУ ДО СОКІ</text>
</g>
<g id="n-a" font-size="13">
<rect class="bx" x="132" y="1095" width="38" height="42"/><text transform="translate(151,1116) rotate(-90)" textLength="26" lengthAdjust="spacingAndGlyphs">А.16</text>
<rect class="bx" x="177" y="1095" width="38" height="42"/><text transform="translate(196,1116) rotate(-90)" textLength="26" lengthAdjust="spacingAndGlyphs">А.14</text>
<rect class="bx" x="228" y="1095" width="38" height="42"/><text transform="translate(247,1116) rotate(-90)" textLength="26" lengthAdjust="spacingAndGlyphs">А.13</text>
<rect class="bx" x="280" y="1095" width="39" height="42"/><text transform="translate(299,1116) rotate(-90)" textLength="26" lengthAdjust="spacingAndGlyphs">А.12</text>
<rect class="bx" x="332" y="1095" width="38" height="42"/><text transform="translate(351,1116) rotate(-90)" textLength="26" lengthAdjust="spacingAndGlyphs">А.11</text>
<rect class="bx" x="383" y="1095" width="40" height="42"/><text transform="translate(403,1116) rotate(-90)" textLength="22" lengthAdjust="spacingAndGlyphs">А.9</text>
</g>
<g id="n-filter" font-size="16">
<rect class="pu" x="133" y="1157" width="297" height="70"/>
<text transform="translate(282,1212) rotate(180)" textLength="225" lengthAdjust="spacingAndGlyphs">ПІДСИСТЕМА ФІЛЬТРАЦІЇ</text>
<text transform="translate(283,1192) rotate(180)" textLength="255" lengthAdjust="spacingAndGlyphs">ДАНИХ РИЗИКІВ <tspan class="n">згідно</tspan> ДСТУ</text>
<text transform="translate(282,1172) rotate(180)" textLength="165" lengthAdjust="spacingAndGlyphs">ISO/IEC 27001:2013</text>
</g>
<g id="n-loss" font-size="16">
<rect class="pu" x="133" y="1278" width="297" height="74"/>
<text transform="translate(283,1334) rotate(180)" textLength="245" lengthAdjust="spacingAndGlyphs">ПІДСИСТЕМА ОЦІНЮВАННЯ</text>
<text transform="translate(280,1313) rotate(180)" textLength="250" lengthAdjust="spacingAndGlyphs">ВТРАТ БЕЗПЕКИ <tspan class="n">згідно</tspan> ДСТУ</text>
<text transform="translate(282,1293) rotate(180)" textLength="170" lengthAdjust="spacingAndGlyphs">ISO/IEC 27000:2019</text>
</g>
<g id="n-props" font-size="13">
<rect class="bx" x="140" y="1372" width="27" height="115"/><text class="n" transform="translate(153.5,1433) rotate(-90)" textLength="93" lengthAdjust="spacingAndGlyphs">конфіденційності</text>
<rect class="bx" x="180" y="1372" width="27" height="115"/><text class="n" transform="translate(193.5,1432) rotate(-90)" textLength="53" lengthAdjust="spacingAndGlyphs">цілісності</text>
<rect class="bx" x="215" y="1372" width="27" height="115"/><text class="n" transform="translate(228.5,1429) rotate(-90)" textLength="58" lengthAdjust="spacingAndGlyphs">доступності</text>
<rect class="bx" x="255" y="1372" width="27" height="115"/><text class="n" transform="translate(268.5,1430) rotate(-90)" textLength="80" lengthAdjust="spacingAndGlyphs">спостережності</text>
<rect class="bx" x="297" y="1372" width="26" height="115"/><text class="n" transform="translate(310,1430) rotate(-90)" textLength="76" lengthAdjust="spacingAndGlyphs">автентичності</text>
<rect class="bx" x="338" y="1372" width="27" height="115"/><text class="n" transform="translate(351.5,1431) rotate(-90)" textLength="57" lengthAdjust="spacingAndGlyphs">надійності</text>
<rect class="bx" x="385" y="1372" width="27" height="115"/><text class="n" transform="translate(398.5,1430) rotate(-90)" textLength="86" lengthAdjust="spacingAndGlyphs">рубежів захисту</text>
</g>
<g id="n-methods-risk" font-size="18">
<rect class="pu" x="480" y="1252" width="422" height="135"/>
<text transform="translate(691,1373) rotate(180)" textLength="228" lengthAdjust="spacingAndGlyphs">ПІДСИСТЕМА МЕТОДІВ</text>
<text transform="translate(691,1351) rotate(180)" textLength="130" lengthAdjust="spacingAndGlyphs">ЗАГАЛЬНОГО</text>
<text transform="translate(691,1329) rotate(180)" textLength="226" lengthAdjust="spacingAndGlyphs">ОЦІНЮВАННЯ РИЗИКУ</text>
<text transform="translate(691,1306) rotate(180)" textLength="194" lengthAdjust="spacingAndGlyphs"><tspan class="n">згідно</tspan> ДСТУ IEC/ISO</text>
<text transform="translate(691,1284) rotate(180)" textLength="230" lengthAdjust="spacingAndGlyphs">31010:2013 (Додаток В)</text>
</g>
<g id="n-b-top" font-size="12">
<polygon class="bx" points="482,1188 506,1188 506,1216 494,1228 482,1216"/><text transform="translate(494,1203) rotate(-90)" textLength="20" lengthAdjust="spacingAndGlyphs">В17</text>
<polygon class="bx" points="505,1157 529,1157 529,1185 517,1197 505,1185"/><text transform="translate(517,1172) rotate(-90)" textLength="20" lengthAdjust="spacingAndGlyphs">В18</text>
<polygon class="bx" points="528,1188 552,1188 552,1216 540,1228 528,1216"/><text transform="translate(540,1203) rotate(-90)" textLength="20" lengthAdjust="spacingAndGlyphs">В19</text>
<polygon class="bx" points="551,1157 575,1157 575,1185 563,1197 551,1185"/><text transform="translate(563,1172) rotate(-90)" textLength="20" lengthAdjust="spacingAndGlyphs">В20</text>
<polygon class="bx" points="573,1188 597,1188 597,1216 585,1228 573,1216"/><text transform="translate(585,1203) rotate(-90)" textLength="20" lengthAdjust="spacingAndGlyphs">В21</text>
<polygon class="bx" points="595,1157 619,1157 619,1185 607,1197 595,1185"/><text transform="translate(607,1172) rotate(-90)" textLength="20" lengthAdjust="spacingAndGlyphs">В22</text>
<polygon class="bx" points="616,1188 640,1188 640,1216 628,1228 616,1216"/><text transform="translate(628,1203) rotate(-90)" textLength="20" lengthAdjust="spacingAndGlyphs">В23</text>
<polygon class="bx" points="638,1157 662,1157 662,1185 650,1197 638,1185"/><text transform="translate(650,1172) rotate(-90)" textLength="20" lengthAdjust="spacingAndGlyphs">В24</text>
<polygon class="bx" points="731,1157 755,1157 755,1185 743,1197 731,1185"/><text transform="translate(743,1172) rotate(-90)" textLength="20" lengthAdjust="spacingAndGlyphs">В25</text>
<polygon class="bx" points="755,1188 779,1188 779,1216 767,1228 755,1216"/><text transform="translate(767,1203) rotate(-90)" textLength="20" lengthAdjust="spacingAndGlyphs">В26</text>
<polygon class="bx" points="779,1157 803,1157 803,1185 791,1197 779,1185"/><text transform="translate(791,1172) rotate(-90)" textLength="20" lengthAdjust="spacingAndGlyphs">В27</text>
<polygon class="bx" points="806,1188 830,1188 830,1216 818,1228 806,1216"/><text transform="translate(818,1203) rotate(-90)" textLength="20" lengthAdjust="spacingAndGlyphs">В28</text>
<polygon class="bx" points="828,1157 852,1157 852,1185 840,1197 828,1185"/><text transform="translate(840,1172) rotate(-90)" textLength="20" lengthAdjust="spacingAndGlyphs">В29</text>
<polygon class="bx" points="853,1188 877,1188 877,1216 865,1228 853,1216"/><text transform="translate(865,1203) rotate(-90)" textLength="20" lengthAdjust="spacingAndGlyphs">В30</text>
<polygon class="bx" points="878,1157 902,1157 902,1185 890,1197 878,1185"/><text transform="translate(890,1172) rotate(-90)" textLength="20" lengthAdjust="spacingAndGlyphs">В31</text>
</g>
<g id="n-b-bottom" font-size="12">
<polygon class="bx" points="501,1410 513,1422 513,1448 489,1448 489,1422"/><text transform="translate(501,1433) rotate(-90)" textLength="20" lengthAdjust="spacingAndGlyphs">В16</text>
<polygon class="bx" points="530,1442 542,1454 542,1480 518,1480 518,1454"/><text transform="translate(530,1465) rotate(-90)" textLength="20" lengthAdjust="spacingAndGlyphs">В15</text>
<polygon class="bx" points="563,1410 575,1422 575,1448 551,1448 551,1422"/><text transform="translate(563,1433) rotate(-90)" textLength="20" lengthAdjust="spacingAndGlyphs">В14</text>
<polygon class="bx" points="590,1442 602,1454 602,1480 578,1480 578,1454"/><text transform="translate(590,1465) rotate(-90)" textLength="20" lengthAdjust="spacingAndGlyphs">В13</text>
<polygon class="bx" points="618,1410 630,1422 630,1448 606,1448 606,1422"/><text transform="translate(618,1433) rotate(-90)" textLength="20" lengthAdjust="spacingAndGlyphs">В12</text>
<polygon class="bx" points="645,1442 657,1454 657,1480 633,1480 633,1454"/><text transform="translate(645,1465) rotate(-90)" textLength="20" lengthAdjust="spacingAndGlyphs">В11</text>
<polygon class="bx" points="671,1410 683,1422 683,1448 659,1448 659,1422"/><text transform="translate(671,1433) rotate(-90)" textLength="20" lengthAdjust="spacingAndGlyphs">В10</text>
<polygon class="bx" points="696,1442 708,1454 708,1480 684,1480 684,1454"/><text transform="translate(696,1465) rotate(-90)" textLength="14" lengthAdjust="spacingAndGlyphs">В9</text>
<polygon class="bx" points="721,1410 733,1422 733,1448 709,1448 709,1422"/><text transform="translate(721,1433) rotate(-90)" textLength="14" lengthAdjust="spacingAndGlyphs">В8</text>
<polygon class="bx" points="746,1442 758,1454 758,1480 734,1480 734,1454"/><text transform="translate(746,1465) rotate(-90)" textLength="14" lengthAdjust="spacingAndGlyphs">В7</text>
<polygon class="bx" points="771,1410 783,1422 783,1448 759,1448 759,1422"/><text transform="translate(771,1433) rotate(-90)" textLength="14" lengthAdjust="spacingAndGlyphs">В6</text>
<polygon class="bx" points="798,1442 810,1454 810,1480 786,1480 786,1454"/><text transform="translate(798,1465) rotate(-90)" textLength="14" lengthAdjust="spacingAndGlyphs">В5</text>
<polygon class="bx" points="820,1410 832,1422 832,1448 808,1448 808,1422"/><text transform="translate(820,1433) rotate(-90)" textLength="14" lengthAdjust="spacingAndGlyphs">В4</text>
<polygon class="bx" points="846,1442 858,1454 858,1480 834,1480 834,1454"/><text transform="translate(846,1465) rotate(-90)" textLength="14" lengthAdjust="spacingAndGlyphs">В3</text>
<polygon class="bx" points="866,1410 878,1422 878,1448 854,1448 854,1422"/><text transform="translate(866,1433) rotate(-90)" textLength="14" lengthAdjust="spacingAndGlyphs">В2</text>
<polygon class="bx" points="891,1442 903,1454 903,1480 879,1480 879,1454"/><text transform="translate(891,1465) rotate(-90)" textLength="14" lengthAdjust="spacingAndGlyphs">В1</text>
</g>
<g id="n-standards" font-size="17">
<rect class="pu" x="937" y="1267" width="243" height="101"/>
<text transform="translate(1059,1355) rotate(180)" textLength="228" lengthAdjust="spacingAndGlyphs">ПІДСИСТЕМА СТАНДАРТІВ</text>
<text transform="translate(1060,1337) rotate(180)" textLength="196" lengthAdjust="spacingAndGlyphs">УКРАЇНИ ЗАГАЛЬНОГО</text>
<text transform="translate(1058,1317) rotate(180)" textLength="237" lengthAdjust="spacingAndGlyphs">ОЦІНЮВАННЯ РИЗИКУ, ЯКІ</text>
<text transform="translate(1059,1297) rotate(180)" textLength="222" lengthAdjust="spacingAndGlyphs">Є АНАЛОГАМИ У МЕЖАХ</text>
<text transform="translate(1058,1277) rotate(180)" textLength="27" lengthAdjust="spacingAndGlyphs">ISO</text>
</g>
<g id="n-conditions" font-size="16">
<rect class="pu" x="937" y="1185" width="243" height="60"/>
<text transform="translate(1063,1233) rotate(180)" textLength="210" lengthAdjust="spacingAndGlyphs">НЕОБХІДНІ УМОВИ ДЛЯ</text>
<text transform="translate(1060,1214) rotate(180)" textLength="166" lengthAdjust="spacingAndGlyphs">ВИБОРУ КРИТЕРІЇВ</text>
<text transform="translate(1058,1195) rotate(180)" textLength="80" lengthAdjust="spacingAndGlyphs">РИЗИКУ</text>
</g>
<g id="n-vk" font-size="13">
<polygon class="bx" points="945,1113 973,1113 973,1151 945,1155"/><text transform="translate(959,1133) rotate(-90)" textLength="22" lengthAdjust="spacingAndGlyphs">ВК7</text>
<polygon class="bx" points="978,1113 1006,1113 1006,1151 978,1155"/><text transform="translate(992,1133) rotate(-90)" textLength="22" lengthAdjust="spacingAndGlyphs">ВК6</text>
<polygon class="bx" points="1013,1113 1041,1113 1041,1151 1013,1155"/><text transform="translate(1027,1133) rotate(-90)" textLength="22" lengthAdjust="spacingAndGlyphs">ВК5</text>
<polygon class="bx" points="1048,1113 1076,1113 1076,1151 1048,1155"/><text transform="translate(1062,1133) rotate(-90)" textLength="22" lengthAdjust="spacingAndGlyphs">ВК4</text>
<polygon class="bx" points="1083,1113 1111,1113 1111,1151 1083,1155"/><text transform="translate(1097,1133) rotate(-90)" textLength="22" lengthAdjust="spacingAndGlyphs">ВК3</text>
<polygon class="bx" points="1118,1113 1146,1113 1146,1151 1118,1155"/><text transform="translate(1132,1133) rotate(-90)" textLength="22" lengthAdjust="spacingAndGlyphs">ВК2</text>
<polygon class="bx" points="1152,1113 1180,1113 1180,1151 1152,1155"/><text transform="translate(1166,1133) rotate(-90)" textLength="22" lengthAdjust="spacingAndGlyphs">ВК1</text>
</g>
<g id="n-dstu" font-size="14">
<rect class="bx" x="948" y="1390" width="47" height="92"/>
<text transform="translate(966,1433) rotate(-90)" textLength="40" lengthAdjust="spacingAndGlyphs">ДСТУ ISO</text>
<text transform="translate(983,1437) rotate(-90)" textLength="73" lengthAdjust="spacingAndGlyphs">Guide 73:2013</text>
<rect class="bx" x="1012" y="1390" width="41" height="92"/>
<text transform="translate(1023,1437) rotate(-90)" textLength="73" lengthAdjust="spacingAndGlyphs">ДСТУ IEC / ISO</text>
<text transform="translate(1039,1437) rotate(-90)" textLength="60" lengthAdjust="spacingAndGlyphs">31010:2013</text>
<rect class="bx" x="1075" y="1390" width="42" height="92"/>
<text transform="translate(1088,1437) rotate(-90)" textLength="40" lengthAdjust="spacingAndGlyphs">ДСТУ ISO</text>
<text transform="translate(1104,1437) rotate(-90)" textLength="60" lengthAdjust="spacingAndGlyphs">31000:2018</text>
<rect class="bx" x="1140" y="1390" width="42" height="92"/>
<text transform="translate(1153,1437) rotate(-90)" textLength="73" lengthAdjust="spacingAndGlyphs">ДСТУ ISO / TR</text>
<text transform="translate(1169,1437) rotate(-90)" textLength="60" lengthAdjust="spacingAndGlyphs">31004:2013</text>
</g>
</svg>
